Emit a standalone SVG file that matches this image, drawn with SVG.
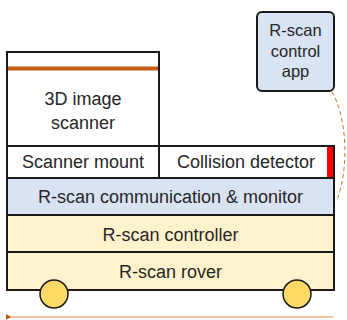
<svg xmlns="http://www.w3.org/2000/svg" width="347" height="320" viewBox="0 0 347 320">
<style>
text{font-family:"Liberation Sans",Arial,sans-serif;font-size:18px;fill:#262626;text-anchor:middle}
.box{stroke:#1a1a1a;stroke-width:2}
.w{fill:#ffffff}
.b{fill:#dae3f3}
.y{fill:#fff2cc}
.wheel{fill:#ffd966;stroke:#1a1a1a;stroke-width:1.5}
</style>
<defs>
<marker id="ah" viewBox="0 0 10 10" refX="1" refY="5" markerWidth="6" markerHeight="6" orient="auto-start-reverse" markerUnits="userSpaceOnUse">
<path d="M0,5 L10,0 L10,10 Z" fill="#c55a11"/>
</marker>
</defs>
<g id="scanner">
<rect class="box w" x="7" y="52" width="152" height="94"/>
<rect x="8" y="66.5" width="150" height="4" fill="#c55a11"/>
<text x="83" y="105">3D image</text>
<text x="83" y="129">scanner</text>
</g>
<g id="mount">
<rect class="box w" x="7" y="146" width="152" height="32"/>
<text x="83" y="168">Scanner mount</text>
</g>
<g id="collision">
<rect class="box w" x="159" y="146" width="175" height="32"/>
<rect x="327" y="147" width="6" height="30" fill="#ff0000"/>
<text x="246" y="168">Collision detector</text>
</g>
<g id="comm">
<rect class="box b" x="7" y="178" width="327" height="37"/>
<text x="170.5" y="203">R-scan communication &amp; monitor</text>
</g>
<g id="controller">
<rect class="box y" x="7" y="215" width="327" height="37"/>
<text x="170.5" y="241">R-scan controller</text>
</g>
<g id="rover">
<rect class="box y" x="7" y="252" width="327" height="38"/>
<text x="170.5" y="278">R-scan rover</text>
<circle class="wheel" cx="54" cy="294" r="14"/>
<circle class="wheel" cx="297" cy="294" r="14"/>
</g>
<g id="app">
<rect class="box b" x="257" y="12" width="77" height="79" rx="5"/>
<text x="295.5" y="36" style="font-size:16.5px">R-scan</text>
<text x="295.5" y="57" style="font-size:16.5px">control</text>
<text x="295.5" y="77" style="font-size:16.5px">app</text>
</g>
<g id="connectors">
<path d="M332,92 C346,115 350,165 337,200" fill="none" stroke="#d07030" stroke-width="1" stroke-dasharray="4,3"/>
<line x1="333" y1="317" x2="11" y2="317" stroke="#f4b183" stroke-width="1.5" marker-end="url(#ah)"/>
</g>
</svg>
